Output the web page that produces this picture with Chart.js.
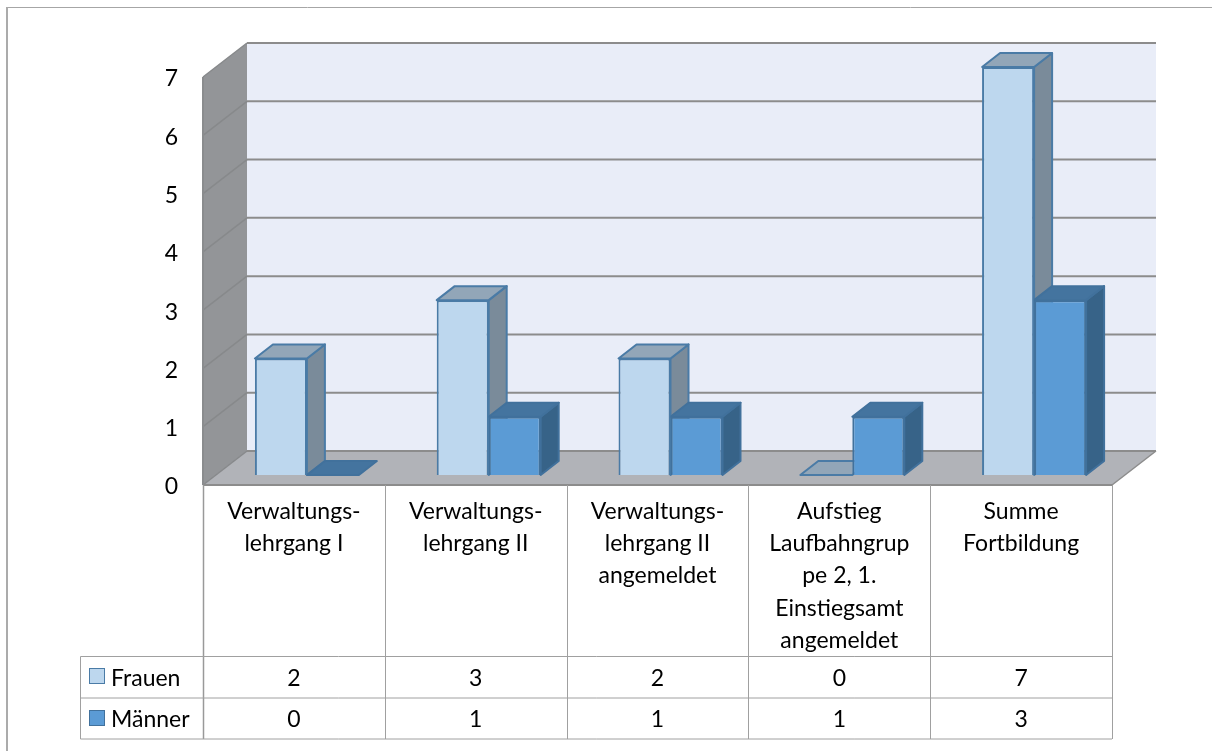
<!DOCTYPE html>
<html><head><meta charset="utf-8">
<style>html,body{margin:0;padding:0;background:#fff}#w{width:1212px;height:751px}</style>
<script src="https://cdn.jsdelivr.net/npm/chart.js@4"></script></head>
<body><div id="w"><canvas id="c" width="1212" height="751"></canvas></div>
<script>
const categories = [
  ["Verwaltungs-","lehrgang I"],
  ["Verwaltungs-","lehrgang II"],
  ["Verwaltungs-","lehrgang II","angemeldet"],
  ["Aufstieg","Laufbahngrup","pe 2, 1.","Einstiegsamt","angemeldet"],
  ["Summe","Fortbildung"]
];
const frauen = [2,3,2,0,7];
const maenner = [0,1,1,1,3];
const yTicks = [0,1,2,3,4,5,6,7];
const FONT = 'Lato, Carlito, sans-serif';
const FS = 23;
const palette = [
  {front:'#BDD7EE', top:'#92A6B8', side:'#7A8B9A', edge:'#4A7BA6'},
  {front:'#5B9BD5', top:'#44749F', side:'#376388', edge:'#41719C'}
];
// depth of the scene relative to the plane of the bar fronts
const BACK = {x:31, y:-24}, FRONT = {x:-13, y:10}, BAR = {x:18, y:-14};
const GRID = '#8C8C8C', TBL = '#A0A0A0';

function poly(ctx, pts, fill, stroke, lw){
  ctx.beginPath();
  pts.forEach((p,i)=> i?ctx.lineTo(p[0],p[1]):ctx.moveTo(p[0],p[1]));
  ctx.closePath();
  if(fill){ctx.fillStyle=fill;ctx.fill();}
  if(stroke){ctx.strokeStyle=stroke;ctx.lineWidth=lw;ctx.lineJoin='round';ctx.stroke();}
}
function line(ctx,x1,y1,x2,y2,c,w){
  ctx.beginPath();ctx.moveTo(x1,y1);ctx.lineTo(x2,y2);ctx.strokeStyle=c;ctx.lineWidth=w;ctx.stroke();
}
const scene = {
  id:'scene',
  beforeDatasetsDraw(chart){
    const {ctx, scales:{x,y}} = chart;
    const L=x.left, R=x.right, z=y.getPixelForValue(0), t=y.getPixelForValue(7);
    ctx.save();
    // outer frame (only top and left are visible)
    line(ctx,6,7.5,1212,7.5,'#A6A6A6',1);
    line(ctx,7,7,7,751,'#ABABAB',2);
    // back wall
    poly(ctx,[[L+BACK.x,t+BACK.y],[R+BACK.x,t+BACK.y],[R+BACK.x,z+BACK.y],[L+BACK.x,z+BACK.y]],'#E9EDF8');
    // floor
    poly(ctx,[[L+FRONT.x,z+FRONT.y],[R+FRONT.x,z+FRONT.y],[R+BACK.x,z+BACK.y],[L+BACK.x,z+BACK.y]],'#B1B3B8');
    // side wall
    poly(ctx,[[L+FRONT.x,t+FRONT.y],[L+BACK.x,t+BACK.y],[L+BACK.x,z+BACK.y],[L+FRONT.x,z+FRONT.y]],'#939598');
    // grid lines on the side wall and the back wall
    yTicks.forEach(v=>{
      const p=y.getPixelForValue(v);
      line(ctx,L+FRONT.x,p+FRONT.y,L+BACK.x,p+BACK.y,'#87898B',1.5);
      line(ctx,L+BACK.x,p+BACK.y,R+BACK.x,p+BACK.y,GRID,2);
    });
    // front edge of the floor and side wall
    line(ctx,L+FRONT.x,z+FRONT.y,R+FRONT.x,z+FRONT.y,GRID,2);
    line(ctx,R+FRONT.x,z+FRONT.y,R+BACK.x,z+BACK.y,GRID,1.5);
    line(ctx,L+FRONT.x,t+FRONT.y,L+FRONT.x,z+FRONT.y,'#8A8C8E',2);
    // bar depth faces, drawn back to front so the fronts land on top
    chart.data.datasets.forEach((ds,i)=>{
      const pal=palette[i];
      chart.getDatasetMeta(i).data.forEach(el=>{
        const l=el.x-el.width/2, r=el.x+el.width/2, b=el.base, tp=el.y;
        if(b-tp>0.5){
          poly(ctx,[[r,tp],[r+BAR.x,tp+BAR.y],[r+BAR.x,b+BAR.y],[r,b]],pal.side,pal.edge,2);
        }
        poly(ctx,[[l,tp],[r,tp],[r+BAR.x,tp+BAR.y],[l+BAR.x,tp+BAR.y]],pal.top,pal.edge,2);
      });
    });
    ctx.restore();
  },
  afterDraw(chart){
    const {ctx, scales:{x,y}} = chart;
    const L=x.left+FRONT.x, R=x.right+FRONT.x, z=y.getPixelForValue(0)+FRONT.y;
    const rows=[656.5,698,739], keyL=80.5;
    ctx.save();
    // table verticals
    const n=categories.length, w=(R-L)/n;
    for(let i=0;i<=n;i++){
      const px=Math.round(L+i*w)+.5;
      line(ctx,px,z,px,rows[2],i===0?'#999':TBL,i===0?1.5:1);
    }
    rows.forEach(r=>line(ctx,keyL,r,R,r,TBL,1));
    line(ctx,keyL,rows[0],keyL,rows[2],TBL,1);
    // table rows
    ctx.font=FS+'px '+FONT;
    ctx.textBaseline='middle';
    chart.data.datasets.forEach((ds,i)=>{
      const yy=(rows[i]+rows[i+1])/2+1;
      ctx.fillStyle='#000';
      ctx.textAlign='center';
      ds.data.forEach((v,c)=>{
        ctx.fillText(String(v), x.getPixelForValue(c)+FRONT.x, yy);
      });
      ctx.textAlign='left';
      ctx.fillText(ds.label,111,yy);
      const s=15;
      ctx.fillStyle=palette[i].front;ctx.fillRect(89.5,Math.round(yy)-9.5,s,s);
      ctx.strokeStyle=palette[i].edge;ctx.lineWidth=1;ctx.strokeRect(89.5,Math.round(yy)-9.5,s,s);
    });
    ctx.restore();
  }
};
const canvas=document.getElementById('c');
canvas.getContext('2d').letterSpacing='0.25px'; // keeps Lato from joining "ti"
new Chart(canvas,{
  type:'bar',
  data:{labels:categories,datasets:[
    {label:'Frauen',data:frauen,backgroundColor:palette[0].front,borderColor:palette[0].edge,borderWidth:2},
    {label:'Männer',data:maenner,backgroundColor:palette[1].front,borderColor:palette[1].edge,borderWidth:2}
  ]},
  plugins:[scene],
  options:{
    responsive:false,animation:false,
    layout:{padding:{left:0,right:87,top:67,bottom:0}},
    plugins:{legend:{display:false},tooltip:{enabled:false},title:{display:false}},
    datasets:{bar:{categoryPercentage:0.572,barPercentage:1}},
    scales:{
      x:{
        grid:{display:false},border:{display:false},
        afterFit(s){s.height=276;},
        ticks:{color:'#000',font:{family:FONT,size:FS,lineHeight:1.41},padding:12,labelOffset:-13,maxRotation:0,autoSkip:false}
      },
      y:{
        min:0,max:7,
        grid:{display:false},border:{display:false},
        afterFit(s){s.width=216;},
        afterBuildTicks(s){s.ticks=yTicks.map(v=>({value:v}));},
        ticks:{color:'#000',font:{family:FONT,size:FS},padding:30,labelOffset:12}
      }
    }
  }
});
</script></body></html>
